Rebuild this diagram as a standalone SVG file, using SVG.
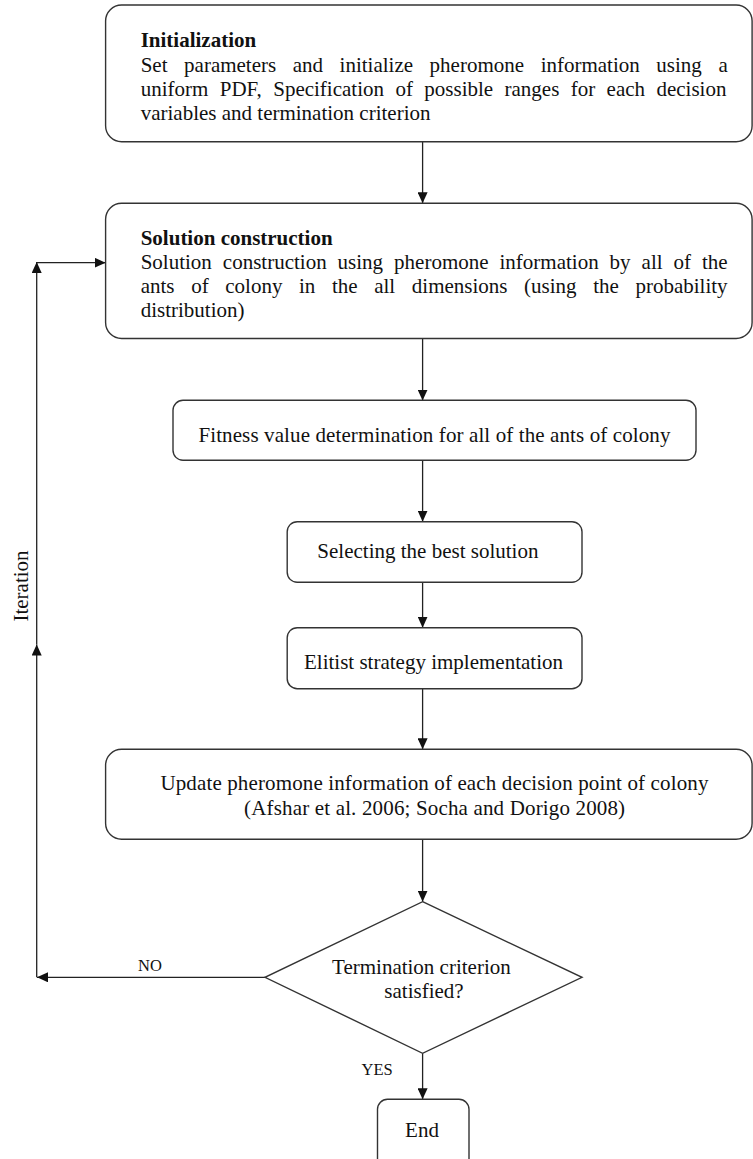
<svg xmlns="http://www.w3.org/2000/svg" width="753" height="1159" viewBox="0 0 753 1159">
<defs>
<marker id="ah" markerUnits="userSpaceOnUse" markerWidth="12" markerHeight="10" refX="11" refY="5" orient="auto">
<path d="M0,0 L11,5 L0,10 z" fill="#111"/>
</marker>
<style>
.box{fill:#fff;stroke:#333;stroke-width:1.4}
.t{font-family:"Liberation Serif","Times New Roman",serif;font-size:21px;fill:#111}
.b{font-weight:bold}
.c{text-anchor:middle}
.s{font-size:16.5px}
.con{fill:none;stroke:#222;stroke-width:1.3}
</style>
</defs>
<rect width="753" height="1159" fill="#fff"/>
<g id="connectors">
<path class="con" d="M422.6,141.7 V203.3" marker-end="url(#ah)"/>
<path class="con" d="M422.6,338.5 V400.6" marker-end="url(#ah)"/>
<path class="con" d="M422.6,460.5 V521.7" marker-end="url(#ah)"/>
<path class="con" d="M422.6,582.3 V627.7" marker-end="url(#ah)"/>
<path class="con" d="M422.6,688.7 V749.3" marker-end="url(#ah)"/>
<path class="con" d="M422.6,839.3 V901.7" marker-end="url(#ah)"/>
<path class="con" d="M422.6,1053.3 V1099.3" marker-end="url(#ah)"/>
<path class="con" d="M265,977.3 H37" marker-end="url(#ah)"/>
<path class="con" d="M36.7,977.3 V644.5" marker-end="url(#ah)"/>
<path class="con" d="M36.7,644.5 V262" marker-end="url(#ah)"/>
<path class="con" d="M36.7,262.7 H105.6" marker-end="url(#ah)"/>
<text class="t s" x="150" y="970.5" text-anchor="middle">NO</text>
<text class="t s" x="377.2" y="1074.5" text-anchor="middle">YES</text>
<text class="t c" transform="translate(28.3,586) rotate(-90)">Iteration</text>
</g>
<g id="init">
<rect class="box" x="105.6" y="5" width="646.5" height="136.7" rx="16"/>
<text class="t b" x="140.7" y="46.5">Initialization</text>
<text class="t" x="140.7" y="71.5" word-spacing="11.3">Set parameters and initialize pheromone information using a</text>
<text class="t" x="140.7" y="96" word-spacing="6.14">uniform PDF, Specification of possible ranges for each decision</text>
<text class="t" x="140.7" y="120">variables and termination criterion</text>
</g>
<g id="construct">
<rect class="box" x="105.6" y="203.3" width="646.5" height="135.2" rx="16"/>
<text class="t b" x="140.7" y="245">Solution construction</text>
<text class="t" x="140.7" y="269.3" word-spacing="5.71">Solution construction using pheromone information by all of the</text>
<text class="t" x="140.7" y="293.3" word-spacing="11.36">ants of colony in the all dimensions (using the probability</text>
<text class="t" x="140.7" y="316.7">distribution)</text>
</g>
<g id="fitness">
<rect class="box" x="173" y="400.3" width="523" height="60" rx="10"/>
<text class="t c" x="434.4" y="441.8" textLength="472" lengthAdjust="spacing">Fitness value determination for all of the ants of colony</text>
</g>
<g id="select">
<rect class="box" x="287.2" y="521.7" width="294.8" height="60.6" rx="10"/>
<text class="t c" x="427.9" y="557.5">Selecting the best solution</text>
</g>
<g id="elitist">
<rect class="box" x="287.2" y="627.7" width="294.8" height="61" rx="10"/>
<text class="t c" x="433.5" y="668.5">Elitist strategy implementation</text>
</g>
<g id="update">
<rect class="box" x="105.6" y="749.3" width="646.5" height="90" rx="16"/>
<text class="t c" x="434.4" y="790" textLength="548" lengthAdjust="spacing">Update pheromone information of each decision point of colony</text>
<text class="t c" x="434.6" y="815" textLength="381" lengthAdjust="spacing">(Afshar et al. 2006; Socha and Dorigo 2008)</text>
</g>
<g id="termination">
<polygon class="box" points="422.6,901.7 582,977.3 422.6,1053.3 265,977.3"/>
<text class="t c" x="421.4" y="974">Termination criterion</text>
<text class="t c" x="424" y="998">satisfied?</text>
</g>
<g id="end">
<rect class="box" x="377.5" y="1099.3" width="91.5" height="75" rx="10"/>
<text class="t c" x="422" y="1136.7">End</text>
</g>
</svg>
